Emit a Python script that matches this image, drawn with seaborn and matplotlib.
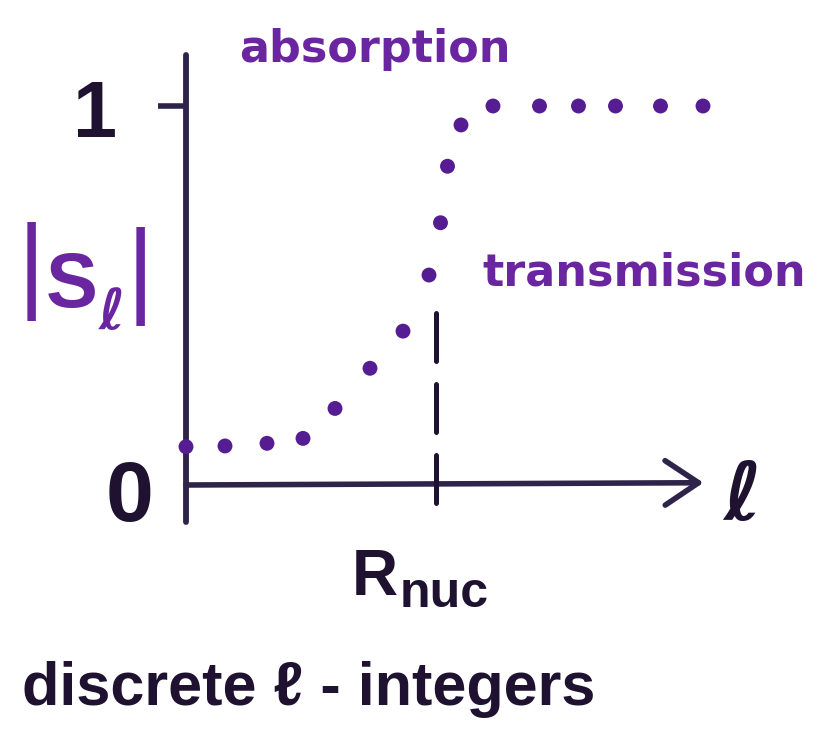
import matplotlib
matplotlib.use("Agg")
import matplotlib.pyplot as plt
import numpy as np
import pandas as pd
import seaborn as sns
from matplotlib import font_manager

sns.set_theme(style="white")
installed = {f.name for f in font_manager.fontManager.ttflist}
HAND = "Liberation Sans Narrow" if "Liberation Sans Narrow" in installed else "Liberation Sans"
plt.rcParams["font.family"] = [HAND, "DejaVu Sans"]

# |S_l| for the partial waves l (in units where R_nuc = 10)
l_values = [0.0, 1.56, 3.24, 4.68, 5.96, 7.36, 8.68, 9.72, 10.18, 10.46,
            11.0, 12.28, 14.14, 15.70, 17.18, 18.98, 20.68]
s_values = [0.101, 0.103, 0.110, 0.123, 0.202, 0.308, 0.406, 0.554, 0.692, 0.841,
            0.950, 1.0, 1.0, 1.0, 1.0, 1.0, 1.0]
r_nuc = 10.0
y_ticks = [1]

df = pd.DataFrame({"l": l_values, "S": s_values})

INK = "#1f1230"
AXIS = "#2e2348"
PURPLE = "#6a26a0"
DOT = "#561c92"

W, H = 820, 743
fig = plt.figure(figsize=(W / 100, H / 100), dpi=100)
fig.patch.set_facecolor("white")

# axes frame: origin at (186, 485) px, 25 px per unit of l, 379 px per unit of |S|
x0_px, y0_px = 186, 485
px_l, px_s = 25.0, 379.0
left_px, right_px, top_px, bottom_px = 186, 760, 55, 522
ax = fig.add_axes([left_px / W, 1 - bottom_px / H,
                   (right_px - left_px) / W, (bottom_px - top_px) / H])
ax.set_xlim(0, (right_px - left_px) / px_l)
ax.set_ylim(-(bottom_px - y0_px) / px_s, (y0_px - top_px) / px_s)
ax.patch.set_alpha(0)

sns.scatterplot(data=df, x="l", y="S", ax=ax, s=115, color=DOT,
                edgecolor="none", linewidth=0, clip_on=False, legend=False, zorder=5)

for side in ("top", "right", "bottom"):
    ax.spines[side].set_visible(False)
ax.spines["left"].set_color(AXIS)
ax.spines["left"].set_linewidth(4.2)
ax.spines["left"].set_capstyle("round")

# l axis with an open arrow head
ax.annotate("", xy=(20.7, 0.006), xytext=(0, 0), annotation_clip=False,
            arrowprops=dict(arrowstyle="->,head_length=1.2,head_width=0.8",
                            lw=4, color=AXIS, shrinkA=0, shrinkB=0,
                            mutation_scale=20, capstyle="round", joinstyle="round"))

# R_nuc marker
ax.plot([r_nuc, r_nuc], [0.454, -0.053], color=INK, lw=3.6,
        ls=(0, (9.6, 4.6)), dash_capstyle="round", clip_on=False, zorder=4)

ax.set_xticks([])
ax.set_yticks(y_ticks)
ax.set_yticklabels([])
ax.tick_params(axis="y", left=True, length=20, width=4, color=AXIS, direction="out")
ax.set_xlabel("")
ax.set_ylabel("")


def put(x, y, s, **kw):
    fig.text(x / W, 1 - y / H, s, **kw)


put(375, 62, "absorption", ha="center", va="baseline", fontsize=32,
    family="DejaVu Sans", weight="bold", color=PURPLE)
put(482, 285, "transmission", ha="left", va="baseline", fontsize=32,
    family="DejaVu Sans", weight="bold", color=PURPLE)

put(95, 137, "1", ha="center", va="baseline", fontsize=57, weight="bold", color=INK)
put(130, 521, "0", ha="center", va="baseline", fontsize=62, weight="bold", color=INK)
put(742, 520, "ℓ", ha="center", va="baseline", fontsize=58, weight="bold",
    family=["DejaVu Sans"], color=INK)

# |S_l| written out piece by piece
put(31, 299, "|", ha="center", va="baseline", fontsize=76, weight="normal", color=PURPLE)
put(72, 307, "S", ha="center", va="baseline", fontsize=56, weight="bold", color=PURPLE)
put(99, 329, "ℓ", ha="left", va="baseline", fontsize=40, weight="bold",
    family=["DejaVu Sans"], color=PURPLE)
put(140, 304, "|", ha="center", va="baseline", fontsize=76, weight="normal", color=PURPLE)

put(352, 595, "R", ha="left", va="baseline", fontsize=46, weight="bold", color=INK)
put(400, 607, "nuc", ha="left", va="baseline", fontsize=36, weight="bold", color=INK)

put(22, 705, "discrete ℓ - integers", ha="left", va="baseline", fontsize=44,
    weight="bold", color=INK)

fig.savefig("out.png", dpi=100, facecolor="white")
